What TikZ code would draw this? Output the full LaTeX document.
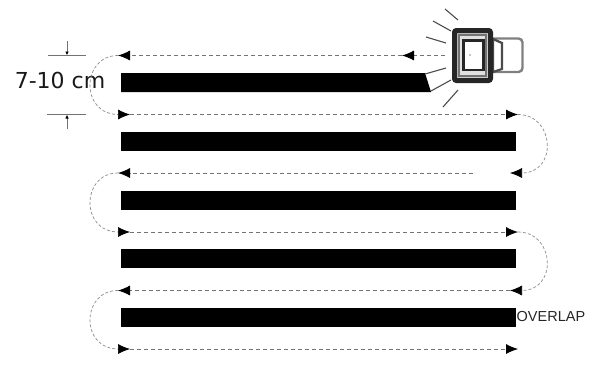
\documentclass[tikz,border=0pt]{standalone}
\usepackage{fontspec}
\setmainfont{Liberation Sans}
\newfontfamily\labelfont{DejaVu Sans}
\usepackage{tikz}
\usetikzlibrary{arrows.meta, positioning}

\begin{document}
\begin{tikzpicture}[x=1pt, y=-1pt, node distance=39.5pt and 0pt,
  bar/.style={rectangle, fill=black, minimum width=395pt, minimum height=19pt, inner sep=0pt, outer sep=0pt},
  pass/.style={draw=black!55, line width=0.8pt, dash pattern=on 4pt off 3pt},
  turn/.style={draw=black!45, line width=0.7pt, dash pattern=on 3pt off 2pt},
  ray/.style={draw=black!70, line width=1.1pt},
  dim/.style={draw=black!55, line width=1pt},
  >={Latex[length=12pt, width=10pt, black]}]
\useasboundingbox (0,0) rectangle (592,365);

% swaths
\fill (121,73) -- (425,73) -- (431,92) -- (121,92) -- cycle;
\node[bar, anchor=north west] at (121,132) (bar2) {};
\node[bar, below=of bar2] (bar3) {};
\node[bar, below=of bar3] (bar4) {};
\node[bar, below=of bar4] (bar5) {};
\node[right=0.5pt of bar5, inner sep=0pt, font=\fontsize{14.5}{15}\selectfont, text=black!85] (overlap) {OVERLAP};
\node[font=\labelfont\fontsize{22}{24}\selectfont, text=black!90, inner sep=0pt] (width) at (60,80) {7-10 cm};

% pass ends
\coordinate (start) at (445,55.5);
\coordinate (mid) at (402,55.5);
\coordinate (l1) at (118,55.5);
\coordinate (l2) at (130,114.5);
\coordinate (r2) at (518,114.5);
\coordinate (r3) at (510,173);
\coordinate (e3) at (473,173);
\coordinate (l3) at (118,173);
\coordinate (l4) at (130,232);
\coordinate (r4) at (518,232);
\coordinate (r5) at (510,290.5);
\coordinate (l5) at (118,290.5);
\coordinate (l6) at (130,349);
\coordinate (r6) at (518,349);

\draw[pass,->] (start) -- (mid);
\draw[pass,->] (mid) -- (l1);
\draw[pass,->] (l2) -- (r2);
\draw[pass,->] (e3) -- (l3);
\draw[pass,->] (l4) -- (r4);
\draw[pass,->] (r5) -- (l5);
\draw[pass,->] (l6) -- (r6);

\draw[turn,->] (l1) to[out=180, in=180, out distance=37pt, in distance=50pt] (l2);
\draw[turn,->] (r2) to[out=0, in=0, out distance=37pt, in distance=48pt] (r3);
\draw[turn,->] (l3) to[out=180, in=180, out distance=37pt, in distance=50pt] (l4);
\draw[turn,->] (r4) to[out=0, in=0, out distance=37pt, in distance=48pt] (r5);
\draw[turn,->] (l5) to[out=180, in=180, out distance=37pt, in distance=50pt] (l6);

% row spacing
\coordinate (t1) at (48,55.5); \coordinate (t2) at (86,55.5);
\coordinate (b1) at (47,114.5); \coordinate (b2) at (86,114.5);
\coordinate (ta) at (67,41); \coordinate (tb) at (67,55.5);
\coordinate (ba) at (67,129); \coordinate (bb) at (67,114.5);
\draw[dim] (t1) -- (t2);
\draw[dim] (b1) -- (b2);
\draw[dim,-{Latex[length=4pt, width=3.5pt, black]}] (ta) -- (tb);
\draw[dim,-{Latex[length=4pt, width=3.5pt, black]}] (ba) -- (bb);

% tiller
\draw[draw=black!50, line width=2.4pt, rounded corners=4pt] (493,38.5) -- (522.5,38.5) -- (522.5,72) -- (493,72);
\draw[draw=black!70, line width=2.2pt, fill=white] (493,39) -- (502,43) -- (502,69) -- (493,72) -- cycle;
\draw[draw=black!85, line width=5pt, rounded corners=2pt, fill=black!20] (454.5,30.5) rectangle (490.5,80.5);
\draw[draw=black!55, fill=black!12, line width=2pt] (459,35) rectangle (486,76);
\draw[draw=black!85, line width=2.6pt, fill=white] (463.5,40.5) rectangle (483.5,70);
\fill[black!45] (470,55) circle (0.9pt);

\draw[ray] (445,9) -- (458,20);
\draw[ray] (433,21) -- (451,31);
\draw[ray] (426,37) -- (446,43);
\draw[ray] (425,74) -- (446,68);
\draw[ray] (431,91) -- (451,80);
\draw[ray] (443,107) -- (458,90);
\end{tikzpicture}
\end{document}
